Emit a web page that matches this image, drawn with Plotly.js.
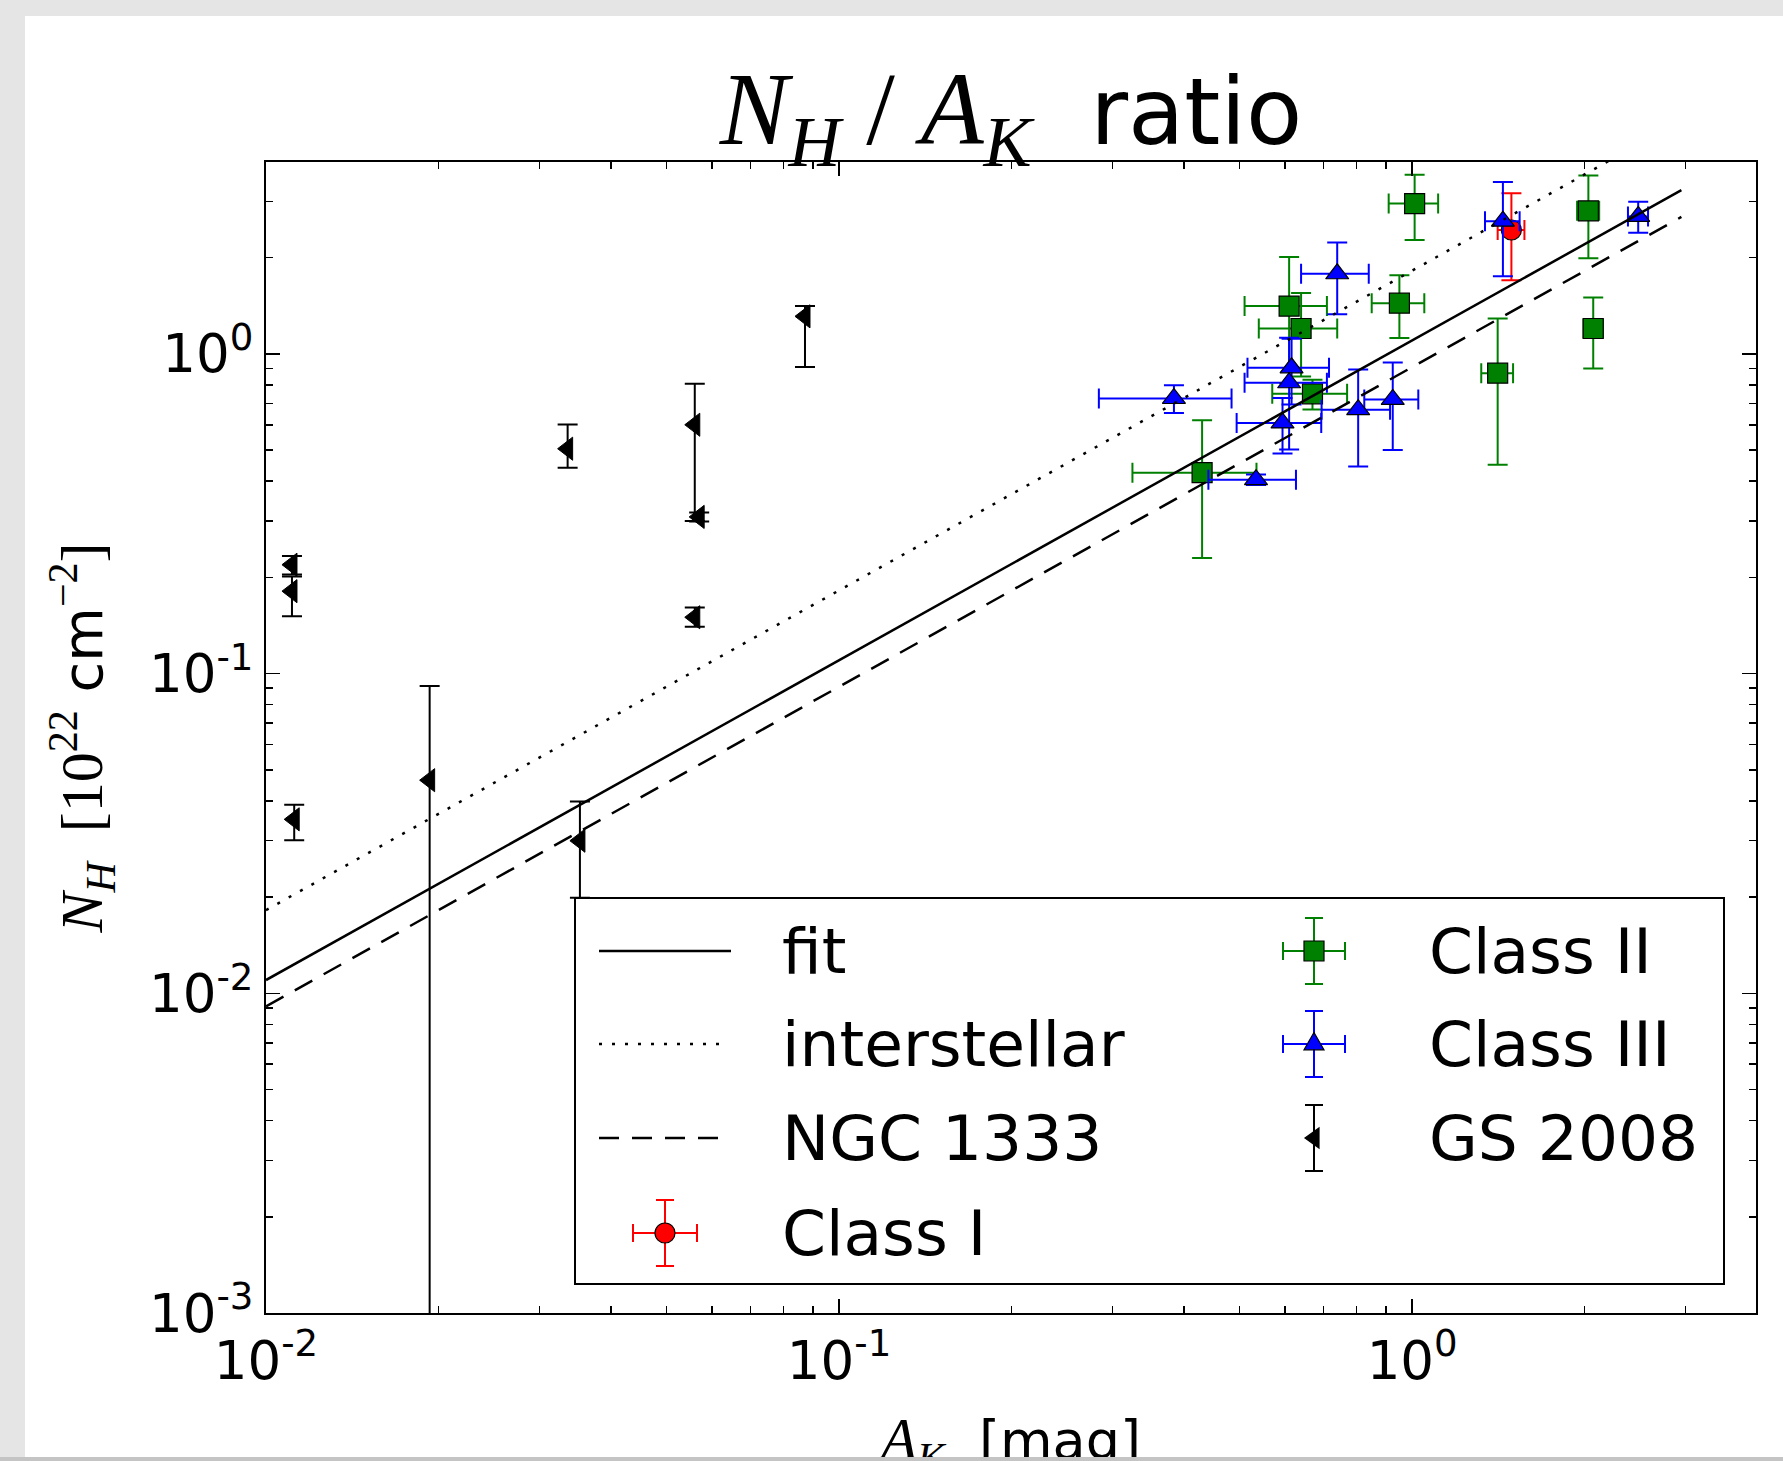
<!DOCTYPE html>
<html><head><meta charset="utf-8">
<script src="https://cdn.plot.ly/plotly-3.0.1.min.js"></script>
<style>
html,body{margin:0;padding:0;background:#e5e5e5;width:1783px;height:1461px;overflow:hidden;}
#white{position:absolute;left:25px;top:16px;width:1758px;height:1441px;background:#fff;}
#chart{position:absolute;left:0;top:0;width:1783px;height:1490px;}
#bottomband{position:absolute;left:0;top:1457px;width:1783px;height:4px;background:#c4c4c4;}
</style></head><body>
<div id="white"></div><div id="chart"></div><div id="bottomband"></div>
<script>
// ---------------- data ----------------
const fitX = [0.01, 2.95];
const fitY = [0.011, 3.25];
const ismX = [0.01, 2.95];
const ismY = [0.0182, 5.37];
const ngcX = [0.01, 2.95];
const ngcY = [0.0091, 2.68];

const classI_x = [1.49];
const classI_y = [2.44];
const classI_xerr = [0.08];
const classI_yerr = [0.74];

const classII_x = [1.01, 2.03, 0.61, 0.64, 0.95, 2.07, 1.41, 0.67, 0.43];
const classII_y = [2.95, 2.80, 1.41, 1.20, 1.44, 1.20, 0.87, 0.75, 0.425];
const classII_xerr = [0.10, 0.09, 0.10, 0.10, 0.10, 0.08, 0.09, 0.10, 0.105];
const classII_yerr = [0.68, 0.81, 0.60, 0.35, 0.32, 0.30, 0.42, 0.08, 0.195];

const classIII_x = [1.44, 2.48, 0.74, 0.616, 0.61, 0.384, 0.594, 0.805, 0.925, 0.534];
const classIII_y = [2.60, 2.69, 1.78, 0.904, 0.812, 0.725, 0.608, 0.669, 0.72, 0.404];
const classIII_xerr = [0.10, 0.10, 0.10, 0.10, 0.10, 0.10, 0.10, 0.11, 0.10, 0.093];
const classIII_yerr = [0.85, 0.30, 0.45, 0.21, 0.31, 0.072, 0.12, 0.225, 0.22, 0.015];

const gs_x = [0.0872, 0.0336, 0.056, 0.057, 0.056, 0.0111, 0.0111, 0.0112, 0.0193, 0.0353];
const gs_y = [1.31, 0.505, 0.60, 0.309, 0.150, 0.219, 0.181, 0.035, 0.0464, 0.030];
const gs_yerr_plus  = [0.10, 0.096, 0.206, 0.01, 0.011, 0.014, 0.02, 0.0039, 0.045, 0.0098];
const gs_yerr_minus = [0.40, 0.065, 0.30, 0.01, 0.01, 0.015, 0.03, 0.0049, 0.05, 0.0101];

const xTickVals = [0.01, 0.1, 1];
const xTickText = ['10<sup>-2</sup>', '10<sup>-1</sup>', '10<sup>0</sup>'];
const yTickVals = [0.001, 0.01, 0.1, 1];
const yTickText = ['10<sup>-3</sup>', '10<sup>-2</sup>', '10<sup>-1</sup>', '10<sup>0</sup>'];

const legendLabels = ['fit', 'interstellar', 'NGC 1333', 'Class I', 'Class II', 'Class III', 'GS 2008'];

// ---------------- geometry ----------------
const FIG_W = 1783, FIG_H = 1490;
const L = 266, R = 1756, T = 162, B = 1313;
const PW = R - L, PH = B - T;
const px = v => (v - L) / PW;
const py = v => (B - v) / PH;

const SERIF = "Liberation Serif";
const SANS = "DejaVu Sans";

function minorVals(d0, d1) {
  const out = [];
  for (let d = d0; d <= d1; d++) for (let k = 2; k <= 9; k++) out.push(k * Math.pow(10, d));
  return out;
}

const errStyle = (color) => ({ color: color, thickness: 2, width: 10 });

const traces = [
  { x: classI_x, y: classI_y, mode: 'markers', type: 'scatter', name: 'Class I',
    marker: { symbol: 'circle', size: 20, color: '#ff0000', line: { color: '#000', width: 1.2 } },
    error_x: Object.assign({ type: 'data', array: classI_xerr, visible: true }, errStyle('#ff0000')),
    error_y: Object.assign({ type: 'data', array: classI_yerr, visible: true }, errStyle('#ff0000')) },
  { x: classII_x, y: classII_y, mode: 'markers', type: 'scatter', name: 'Class II',
    marker: { symbol: 'square', size: 20, color: '#008000', line: { color: '#000', width: 1.2 } },
    error_x: Object.assign({ type: 'data', array: classII_xerr, visible: true }, errStyle('#008000')),
    error_y: Object.assign({ type: 'data', array: classII_yerr, visible: true }, errStyle('#008000')) },
  { x: classIII_x, y: classIII_y, mode: 'markers', type: 'scatter', name: 'Class III',
    marker: { symbol: 'triangle-up', size: 20, color: '#0000ff', line: { color: '#000', width: 1.2 } },
    error_x: Object.assign({ type: 'data', array: classIII_xerr, visible: true }, errStyle('#0000ff')),
    error_y: Object.assign({ type: 'data', array: classIII_yerr, visible: true }, errStyle('#0000ff')) },
  { x: gs_x, y: gs_y, mode: 'markers', type: 'scatter', name: 'GS 2008',
    marker: { symbol: 'triangle-left', size: 20, color: '#000', line: { color: '#000', width: 1 } },
    error_y: Object.assign({ type: 'data', symmetric: false, array: gs_yerr_plus, arrayminus: gs_yerr_minus, visible: true }, errStyle('#000')) },
  { x: fitX, y: fitY, mode: 'lines', type: 'scatter', name: 'fit', line: { color: '#000', width: 2.5 } },
  { x: ismX, y: ismY, mode: 'lines', type: 'scatter', name: 'interstellar', line: { color: '#000', width: 2.5, dash: '3px,10px' } },
  { x: ngcX, y: ngcY, mode: 'lines', type: 'scatter', name: 'NGC 1333', line: { color: '#000', width: 2.5, dash: '20px,13px' } }
];

// ---------------- manual legend ----------------
const shapes = [];
const annotations = [];
shapes.push({ type: 'rect', xref: 'paper', yref: 'paper', x0: px(575), x1: px(1724), y0: py(1284), y1: py(898),
  line: { color: '#000', width: 2 }, fillcolor: '#fff', layer: 'above' });
function seg(x0, y0, x1, y1, color, width, dash) {
  shapes.push({ type: 'line', xref: 'paper', yref: 'paper', x0: px(x0), y0: py(y0), x1: px(x1), y1: py(y1),
    line: { color: color, width: width, dash: dash || 'solid' }, layer: 'above' });
}
function cross(cx, cy, color, hx, hy, cap) {
  if (hx) {
    seg(cx - hx, cy, cx + hx, cy, color, 2);
    seg(cx - hx, cy - cap, cx - hx, cy + cap, color, 2);
    seg(cx + hx, cy - cap, cx + hx, cy + cap, color, 2);
  }
  seg(cx, cy - hy, cx, cy + hy, color, 2);
  seg(cx - cap, cy - hy, cx + cap, cy - hy, color, 2);
  seg(cx - cap, cy + hy, cx + cap, cy + hy, color, 2);
}
function pathShape(pts, fill) {
  const d = pts.map((p, i) => (i ? 'L' : 'M') + px(p[0]) + ',' + py(p[1])).join(' ') + ' Z';
  shapes.push({ type: 'path', xref: 'paper', yref: 'paper', path: d, fillcolor: fill, line: { color: '#000', width: 1.2 }, layer: 'above' });
}
const col1LineX0 = 599, col1LineX1 = 731, col1TextX = 780, col2MarkX = 1314, col2TextX = 1427;
const rowY = [951, 1044, 1138, 1233];
seg(col1LineX0, rowY[0], col1LineX1, rowY[0], '#000', 2.5);
seg(col1LineX0, rowY[1], col1LineX1 - 5, rowY[1], '#000', 2.5, '3px,10px');
seg(col1LineX0, rowY[2], col1LineX1, rowY[2], '#000', 2.5, '20px,13px');
// Class I glyph
cross(665, rowY[3], '#ff0000', 32, 33, 9);
shapes.push({ type: 'circle', xref: 'paper', yref: 'paper', x0: px(655), x1: px(675), y0: py(rowY[3] + 10), y1: py(rowY[3] - 10),
  fillcolor: '#ff0000', line: { color: '#000', width: 1.2 }, layer: 'above' });
// Class II glyph
cross(col2MarkX, rowY[0], '#008000', 31, 33, 9);
shapes.push({ type: 'rect', xref: 'paper', yref: 'paper', x0: px(col2MarkX - 10), x1: px(col2MarkX + 10), y0: py(rowY[0] + 10), y1: py(rowY[0] - 10),
  fillcolor: '#008000', line: { color: '#000', width: 1.2 }, layer: 'above' });
// Class III glyph
cross(col2MarkX, rowY[1], '#0000ff', 31, 33, 9);
pathShape([[col2MarkX, rowY[1] - 11.5], [col2MarkX + 10, rowY[1] + 5.8], [col2MarkX - 10, rowY[1] + 5.8]], '#0000ff');
// GS 2008 glyph
cross(col2MarkX, rowY[2], '#000', 0, 33, 9);
pathShape([[col2MarkX - 9, rowY[2]], [col2MarkX + 5, rowY[2] - 10], [col2MarkX + 5, rowY[2] + 10]], '#000');

const legTextPos = [
  [col1TextX, rowY[0]], [col1TextX, rowY[1]], [col1TextX, rowY[2]], [col1TextX, rowY[3]],
  [col2TextX, rowY[0]], [col2TextX, rowY[1]], [col2TextX, rowY[2]]
];
legendLabels.forEach((t, i) => {
  annotations.push({ xref: 'paper', yref: 'paper', x: px(legTextPos[i][0]), y: py(legTextPos[i][1]),
    xanchor: 'left', yanchor: 'middle', text: t, showarrow: false,
    font: { family: SANS, size: 63, color: '#000' } });
});

const axisCommon = {
  type: 'log', ticks: 'inside', ticklen: 14, tickwidth: 1.5, tickcolor: '#000', mirror: 'allticks',
  showline: true, linecolor: '#000', linewidth: 2, showgrid: false, zeroline: false,
  tickfont: { family: SANS, size: 53, color: '#000' }, tickmode: 'array'
};

const serifSpan = (size, inner) => '<span style="font-family:\'' + SERIF + '\';font-size:' + size + 'px">' + inner + '</span>';

const layout = {
  width: FIG_W, height: FIG_H,
  margin: { l: L, r: FIG_W - R, t: T, b: FIG_H - B, pad: 0 },
  paper_bgcolor: 'rgba(0,0,0,0)', plot_bgcolor: '#ffffff',
  showlegend: false,
  font: { family: SANS, color: '#000' },
  title: {
    text: serifSpan(103, '<i>N</i><sub><i>H</i></sub> / <i>A</i><sub><i>K</i></sub>') + '&nbsp; ratio',
    font: { family: SANS, size: 92, color: '#000' },
    xref: 'container', yref: 'container', x: 1011 / FIG_W, xanchor: 'center', y: 1 - 112 / FIG_H, yanchor: 'middle'
  },
  xaxis: Object.assign({}, axisCommon, {
    range: [-2, 0.6], tickvals: xTickVals, ticktext: xTickText,
    minor: { tickmode: 'array', tickvals: minorVals(-2, 0), ticks: 'inside', ticklen: 7, tickwidth: 1.5, tickcolor: '#000', showgrid: false },
    title: { text: serifSpan(59, '<i>A</i><sub><i>K</i></sub>') + '&nbsp; [mag]', font: { family: SANS, size: 54, color: '#000' }, standoff: 32 }
  }),
  yaxis: Object.assign({}, axisCommon, {
    range: [-3, 0.6], tickvals: yTickVals, ticktext: yTickText,
    minor: { tickmode: 'array', tickvals: minorVals(-3, 0), ticks: 'inside', ticklen: 7, tickwidth: 1.5, tickcolor: '#000', showgrid: false },
    title: { text: serifSpan(60, '<i>N</i><sub><i>H</i></sub>&nbsp; [10<sup>22</sup>') + ' cm' + serifSpan(60, '<sup>\u22122</sup>]'),
      font: { family: SANS, size: 56, color: '#000' }, standoff: 28 }
  }),
  shapes: shapes,
  annotations: annotations
};

Plotly.newPlot('chart', traces, layout, { displayModeBar: false, staticPlot: true });
</script></body></html>
